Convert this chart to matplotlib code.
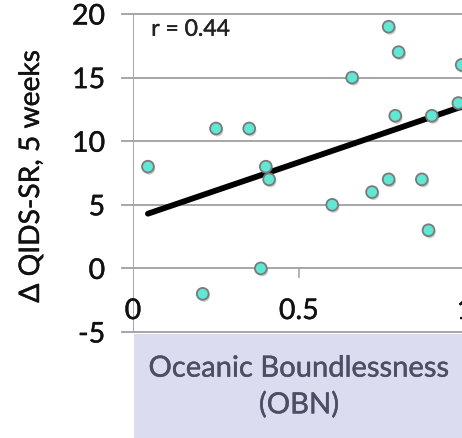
import matplotlib
matplotlib.use("Agg")
import matplotlib.pyplot as plt
import matplotlib.patheffects as pe
from matplotlib.patches import Rectangle

# Data
obn = [0.045, 0.25, 0.35, 0.40, 0.41, 0.385, 0.21, 0.77, 0.80, 0.66, 0.99,
       0.79, 0.90, 0.98, 0.60, 0.72, 0.77, 0.87, 0.89]
dqids = [8, 11, 11, 8, 7, 0, -2, 19, 17, 15, 16, 12, 12, 13, 5, 6, 7, 7, 3]
fit_x = [0.045, 1.2]
fit_intercept = 3.9
fit_slope = 8.9
yticks = [-5, 0, 5, 10, 15, 20]
xticks = [0, 0.5, 1]
xtick_labels = ["0", "0.5", "1"]
r_text = "r = 0.44"
ylabel = "Δ QIDS-SR, 5 weeks"
xlabel = "Oceanic Boundlessness\n(OBN)"

plt.rcParams['font.family'] = ['Lato', 'DejaVu Sans']

def thick(c):
    return [pe.withStroke(linewidth=0.3, foreground=c)]

W, H = 462, 439
fig = plt.figure(figsize=(W / 100, H / 100), dpi=100)

x0px, x1px = 133, 133 + 332 * 1.2
ytop, ybot = 15, 333
ax = fig.add_axes([x0px / W, (H - ybot) / H, (x1px - x0px) / W, (ybot - ytop) / H])
ax.set_xlim(0, 1.2)
ax.set_ylim(-5, 20)

grid_c = "#a6a6a6"
for yv in yticks:
    ax.plot([-0.032, 1.2], [yv, yv], color=grid_c, lw=1.4, clip_on=False, zorder=1)
ax.plot([0, 0], [-5, 20], color=grid_c, lw=1.4, zorder=1)

for s in ax.spines.values():
    s.set_visible(False)

ax.set_yticks(yticks)
ax.set_yticklabels([str(v) for v in yticks], fontsize=20.5, color='#111111')
for t in ax.get_yticklabels():
    t.set_path_effects(thick('#111111'))
ax.tick_params(axis='y', length=0, pad=20)
ax.set_xticks([])

# x-axis ticks and labels along y=0
for xv, lab in zip(xticks, xtick_labels):
    if xv > 0:
        ax.plot([xv, xv], [0, -0.7], color=grid_c, lw=1.2, clip_on=False, zorder=1)
    ax.text(xv, -3.35, lab, fontsize=20.5, ha='center', va='center', color='#111111',
            path_effects=thick('#111111'))

# regression line
fy = [fit_intercept + fit_slope * v for v in fit_x]
ax.plot(fit_x, fy, color='black', lw=4.2, solid_capstyle='round', zorder=3)

# points
ax.plot(obn, dqids, linestyle='none', marker='o', markersize=8.5,
        markerfacecolor='#5fe8d3', markeredgecolor='#7a7a7a', markeredgewidth=1.3,
        zorder=4,
        path_effects=[pe.SimplePatchShadow(offset=(1, -1.5), alpha=0.25), pe.Normal()])

ax.text(0.055, 18.8, r_text, fontsize=16.5, ha='left', va='center', color='#222222',
        path_effects=thick('#222222'))

# y label
fig.text(31 / W, 1 - 177 / H, ylabel, rotation=90, fontsize=20.3,
         ha='center', va='center', color='#111111', path_effects=thick('#111111'))

# x label box
fig.patches.append(Rectangle((134 / W, 0), (W - 134) / W, (H - 335) / H,
                             transform=fig.transFigure, facecolor='#dcdcf0',
                             edgecolor='none', zorder=0))
fig.text(299 / W, 1 - 388 / H, xlabel, fontsize=21, ha='center', va='center',
         color='#4d4d66', linespacing=1.45, path_effects=thick('#4d4d66'))

fig.savefig("out.png", dpi=100)
